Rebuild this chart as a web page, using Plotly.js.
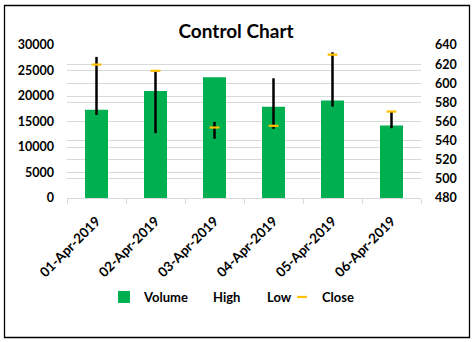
<!DOCTYPE html>
<html>
<head>
<meta charset="utf-8">
<script src="https://cdn.plot.ly/plotly-3.0.1.min.js"></script>
<style>
  html, body { margin: 0; padding: 0; background: #fff; }
  #chart { width: 475px; height: 342px; }
</style>
</head>
<body>
<div id="chart"></div>
<script>
const dates = ['01-Apr-2019', '02-Apr-2019', '03-Apr-2019', '04-Apr-2019', '05-Apr-2019', '06-Apr-2019'];
const volume = [17300, 21000, 23700, 17900, 19100, 14200];
const high = [627.5, 613.5, 559.6, 605.2, 632.4, 570.6];
const low = [566.9, 547.8, 541.9, 552.3, 575.6, 553.0];
const close = [619.5, 613.0, 553.7, 555.5, 629.9, 570.4];

const leftTicks = [0, 5000, 10000, 15000, 20000, 25000, 30000];
const rightTicks = [480, 500, 520, 540, 560, 580, 600, 620, 640];

const FONT = 'Lato, "Open Sans", sans-serif';

const traces = [
  {
    type: 'bar', name: 'Volume', x: dates, y: volume,
    marker: { color: '#00B050' }, yaxis: 'y', hoverinfo: 'skip', legend: 'legend'
  },
  {
    type: 'scatter', mode: 'markers', name: 'High', x: dates, y: high, yaxis: 'y2',
    marker: { color: 'rgba(0,0,0,0)', size: 1 },
    error_y: {
      type: 'data', symmetric: false,
      array: high.map(() => 0),
      arrayminus: high.map((h, i) => h - low[i]),
      color: '#000000', thickness: 2.5, width: 0
    },
    hoverinfo: 'skip', legend: 'legend2'
  },
  {
    type: 'scatter', mode: 'markers', name: 'Low', x: dates, y: low, yaxis: 'y2',
    marker: { color: 'rgba(0,0,0,0)', size: 1 }, hoverinfo: 'skip', legend: 'legend3'
  },
  {
    type: 'scatter', mode: 'markers', name: 'Close', x: dates, y: close, yaxis: 'y2',
    marker: { symbol: 'line-ew', size: 7, color: '#FFC000', line: { color: '#FFC000', width: 2.2 } },
    hoverinfo: 'skip', legend: 'legend4'
  }
];

// plot area: x 67..421, y 45..198
const pl = 67, pr = 421, pt = 45, pb = 198;
const pw = pr - pl, ph = pb - pt;
const px = v => (v - pl) / pw;
const py = v => (pb - v) / ph;

const legFont = { family: FONT, size: 13, weight: 700, color: '#000000' };
const mkLegend = textStart => ({
  orientation: 'h', x: px(textStart - 40), xanchor: 'left', y: py(297), yanchor: 'middle',
  font: legFont, bgcolor: 'rgba(0,0,0,0)', borderwidth: 0, itemwidth: 30
});

const layout = {
  width: 475, height: 342,
  margin: { l: pl, r: 475 - pr, t: pt, b: 342 - pb, pad: 0 },
  paper_bgcolor: '#ffffff', plot_bgcolor: '#ffffff',
  font: { family: FONT, color: '#000000', size: 13, weight: 700 },
  title: {
    text: 'Control Chart',
    font: { family: FONT, size: 19, weight: 700, color: '#000000' },
    x: px(236), xref: 'paper', xanchor: 'center',
    y: 1 - 31 / 342, yref: 'container', yanchor: 'middle'
  },
  bargap: 0.61,
  showlegend: true,
  legend: mkLegend(144),
  legend2: mkLegend(213),
  legend3: mkLegend(267),
  legend4: mkLegend(322),
  xaxis: {
    type: 'category', categoryorder: 'array', categoryarray: dates,
    tickangle: -45, tickson: 'boundaries', ticks: 'outside', ticklen: 5,
    tickcolor: '#d9d9d9', showline: true, linecolor: '#d9d9d9', linewidth: 1,
    showgrid: false, zeroline: false, ticklabelstandoff: 9,
    tickfont: { family: FONT, size: 13.5, weight: 700, color: '#000000' }
  },
  yaxis: {
    range: [0, 30000], tickvals: leftTicks, ticktext: leftTicks.map(String),
    showgrid: true, gridcolor: '#d9d9d9', gridwidth: 1, zeroline: false,
    showline: false, ticks: '', ticklabelstandoff: 12,
    tickfont: { family: FONT, size: 12.5, weight: 700, color: '#000000' }
  },
  yaxis2: {
    overlaying: 'y', side: 'right', range: [480, 640],
    tickvals: rightTicks, ticktext: rightTicks.map(String),
    showgrid: true, gridcolor: '#d9d9d9', gridwidth: 1, zeroline: false,
    showline: false, ticks: '', ticklabelstandoff: 13,
    tickfont: { family: FONT, size: 12.5, weight: 700, color: '#000000' }
  },
  shapes: [
    {
      type: 'rect', xref: 'paper', yref: 'paper',
      x0: px(4.5), x1: px(469.5), y0: py(337.5), y1: py(5.5),
      line: { color: '#000000', width: 1.3 }, fillcolor: 'rgba(0,0,0,0)', layer: 'above'
    }
  ]
};

Plotly.newPlot('chart', traces, layout, { staticPlot: true, displayModeBar: false });
</script>
</body>
</html>
